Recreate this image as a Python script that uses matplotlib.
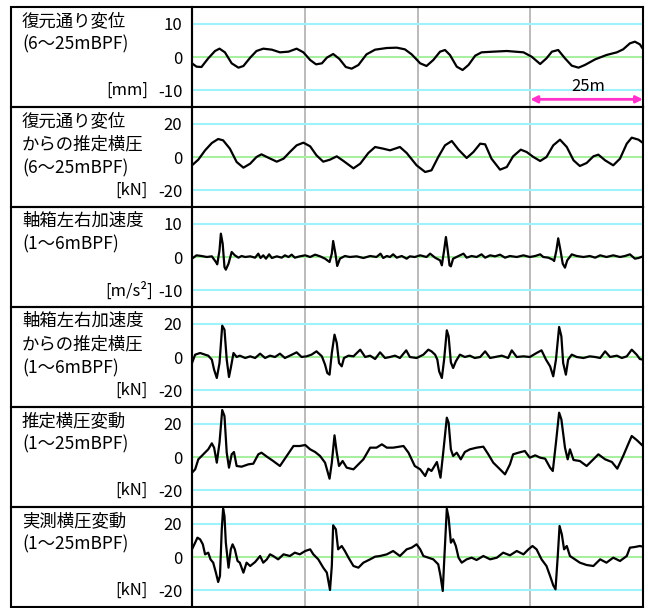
import matplotlib.pyplot as plt
from matplotlib.patches import Rectangle
from matplotlib.transforms import blended_transform_factory

plt.rcParams['font.family'] = ['Noto Sans CJK JP', 'DejaVu Sans']
plt.rcParams['axes.unicode_minus'] = False

# 距離[m], 値 の組
restored_align = [
    (0.0, -1.9), (1.0, -2.9), (2.1, -3.0), (3.6, -0.4), (5.1, 1.8), (6.1, 2.5), (7.3, 1.4),
    (8.8, -1.9), (10.3, -3.2), (11.4, -2.7), (12.9, -0.2), (14.3, 1.8), (15.8, 2.5), (17.7, 2.2),
    (19.5, 1.4), (21.4, 1.6), (23.2, 2.5), (24.7, 1.4), (26.2, -0.9), (27.5, -2.2), (28.8, -1.9),
    (29.9, -0.2), (31.3, 0.9), (32.7, -0.6), (34.1, -3.0), (35.4, -3.5), (36.9, -2.4), (38.7, 0.8),
    (40.6, 2.2), (43.2, 2.7), (45.4, 2.8), (47.2, 2.3), (48.7, 0.8), (50.6, -1.9), (52.0, -2.7),
    (53.5, -0.9), (55.0, 1.6), (56.1, 2.1), (57.2, 0.6), (58.7, -2.9), (60.0, -3.9), (61.3, -2.4),
    (62.8, 0.4), (64.2, 1.4), (66.8, 1.6), (69.8, 1.8), (73.5, 1.4), (75.3, 0.1), (77.2, -2.1),
    (78.6, -0.4), (79.8, 1.6), (81.2, 2.1), (82.7, -0.4), (84.2, -2.6), (85.7, -3.2), (87.1, -2.4),
    (89.4, -0.7), (91.9, 0.6), (94.2, 1.4), (95.6, 2.3), (97.1, 4.1), (98.2, 4.6), (99.3, 3.8),
    (100.0, 2.4),
]

est_lat_from_align = [
    (0.0, -5.0), (1.4, -1.6), (2.9, 4.0), (4.4, 8.4), (5.8, 10.8), (6.9, 10.0), (8.4, 5.0),
    (9.9, -3.0), (11.4, -6.4), (12.9, -4.0), (14.3, 0.0), (15.4, 1.6), (16.9, -0.4), (18.8, -2.8),
    (20.3, -1.0), (21.7, 3.0), (23.2, 7.0), (24.7, 8.6), (26.2, 6.4), (27.6, 1.0), (29.1, -2.8),
    (30.6, -1.6), (32.1, 0.4), (33.6, -2.4), (35.8, -6.8), (37.3, -4.0), (39.1, 2.4), (40.6, 6.0),
    (42.4, 5.0), (43.9, 4.0), (46.1, 6.0), (47.6, 2.4), (49.8, -5.0), (51.7, -9.0), (53.1, -8.0),
    (54.6, 0.0), (56.1, 7.0), (57.6, 9.6), (59.1, 4.4), (60.9, -0.6), (62.4, 3.0), (63.9, 8.0),
    (65.0, 7.6), (66.4, -1.0), (68.3, -7.6), (69.8, -6.0), (71.2, 0.4), (72.9, 4.4), (74.2, 3.0),
    (75.7, 0.0), (77.2, -2.4), (78.6, 0.0), (80.1, 7.0), (81.6, 10.4), (83.1, 6.0), (84.6, -2.0),
    (86.0, -5.4), (87.5, -3.6), (89.0, 0.4), (90.1, 1.4), (91.6, -2.0), (93.4, -5.0), (94.9, -1.0),
    (96.4, 8.0), (97.5, 11.6), (99.0, 10.4), (100.0, 8.4),
]

axlebox_acc = [
    (0.0, -0.5), (1.0, 0.5), (2.1, 0.3), (3.3, 0.0), (4.4, 0.2), (5.3, -1.5), (5.6, -2.2),
    (6.1, 2.0), (6.4, 7.0), (6.8, 4.0), (7.2, -3.0), (7.5, -3.8), (8.1, -2.0), (8.8, 1.5),
    (9.5, 0.5), (10.3, -0.2), (11.0, 0.3), (11.8, 0.0), (12.9, 0.2), (14.0, -0.2), (14.7, 1.0),
    (15.2, -0.3), (15.8, 0.5), (16.4, -0.5), (17.1, 0.8), (17.7, -0.3), (18.8, 0.2), (19.9, -0.2),
    (20.6, 0.5), (21.4, 0.0), (22.1, 0.7), (22.8, -0.2), (23.9, 0.2), (25.1, 0.5), (26.2, 0.0),
    (27.3, 0.7), (28.4, 0.2), (29.5, -0.5), (30.5, -1.5), (31.0, 1.0), (31.3, 4.8), (31.8, 1.0),
    (32.2, -2.7), (32.8, -0.5), (33.9, 0.3), (35.0, 0.0), (36.5, 0.2), (38.0, -0.3), (39.5, 0.3),
    (40.9, 0.0), (41.8, 1.0), (42.4, -0.3), (43.2, 0.3), (43.9, 0.0), (44.6, 0.8), (45.4, -0.2),
    (46.5, 0.3), (47.6, -0.5), (48.3, 0.2), (49.4, 0.0), (50.6, 0.5), (52.0, 0.0), (52.8, 1.0),
    (53.9, -0.2), (55.0, -1.0), (55.4, -2.5), (55.9, 2.0), (56.3, 6.0), (56.7, 2.0), (57.1, -2.5),
    (57.4, -2.8), (57.9, -0.5), (59.1, 0.3), (60.2, 1.0), (60.9, -0.2), (62.0, 0.3), (63.1, 0.0),
    (64.2, 0.8), (65.0, -0.2), (66.1, 0.5), (67.2, 0.2), (68.3, 0.7), (69.4, -0.2), (70.5, 0.3),
    (72.0, 0.0), (73.5, 0.5), (74.9, 0.0), (76.1, 0.3), (77.2, 0.8), (77.9, 0.0), (79.0, -0.2),
    (80.0, -0.8), (80.3, -1.2), (80.8, 2.0), (81.2, 5.6), (81.7, 2.0), (82.2, -2.0), (82.7, -3.2),
    (83.2, -1.0), (84.2, 0.8), (85.3, 0.3), (86.8, 0.0), (88.2, 0.3), (89.4, -0.2), (90.5, 0.5),
    (91.9, 0.0), (93.4, 0.5), (94.9, 0.0), (96.0, 0.3), (97.1, 0.8), (98.2, -0.5), (99.0, -0.3),
    (100.0, 0.2),
]

est_lat_from_acc = [
    (0.0, -3.6), (0.7, 1.4), (1.8, 2.4), (2.9, 1.4), (3.6, 0.8), (4.4, -1.6), (4.9, -7.6),
    (5.5, -12.6), (6.1, -3.6), (6.7, 18.8), (7.2, 16.4), (7.7, -1.6), (8.2, -12.0), (8.6, -6.6),
    (9.2, 2.4), (9.9, 0.0), (10.6, 0.8), (11.8, -0.6), (12.9, 0.4), (14.0, -0.6), (15.1, 2.0),
    (16.2, -0.6), (17.3, 0.8), (18.4, 0.0), (19.5, 2.0), (20.6, -0.6), (21.7, 0.8), (23.2, 2.8),
    (24.3, 0.0), (25.4, 0.4), (26.5, 1.4), (27.6, 3.4), (28.8, 0.4), (29.5, -4.6), (30.0, -9.6),
    (30.5, -10.6), (31.0, 2.4), (31.6, 13.4), (32.1, 8.4), (32.6, -3.6), (33.2, -5.6), (33.7, -0.6),
    (34.7, 0.8), (35.8, 0.4), (37.3, 4.4), (38.4, 0.0), (39.5, 0.8), (40.6, -1.2), (41.7, 2.8),
    (42.8, -0.6), (43.9, 0.0), (45.0, 0.8), (46.1, -0.6), (47.5, 4.0), (48.3, 0.0), (49.8, -0.6),
    (51.3, 1.4), (52.4, 4.4), (53.1, 3.4), (53.9, 1.4), (54.4, -1.6), (54.8, -8.6), (55.4, -12.6),
    (55.9, -1.6), (56.5, 16.0), (56.9, 12.4), (57.4, -3.2), (57.9, -6.6), (58.5, -2.6), (59.4, 1.4),
    (60.5, 0.0), (61.6, 0.8), (62.7, -0.6), (63.9, 0.0), (65.0, 3.4), (66.1, -0.6), (67.2, 0.0),
    (68.7, 0.8), (70.1, -0.6), (70.9, 4.0), (72.0, 0.0), (73.5, 0.4), (74.9, 0.0), (76.4, 2.4),
    (77.5, 4.0), (78.5, -1.6), (79.4, -5.6), (80.1, -11.6), (80.7, -1.6), (81.4, 18.0), (81.9, 12.4),
    (82.3, -3.6), (82.9, -10.6), (83.4, -1.6), (84.2, 1.4), (85.3, 0.0), (86.8, -0.6), (88.2, 0.4),
    (89.4, 0.0), (90.5, -0.6), (91.6, 3.4), (92.7, 0.0), (94.2, 0.8), (95.3, -0.6), (96.4, 0.4),
    (97.5, 4.4), (98.6, 1.4), (99.3, -1.2), (100.0, -1.6),
]

est_lat = [
    (0.0, -9.4), (0.7, -7.4), (1.4, -1.4), (2.5, 1.6), (3.6, 4.6), (4.4, 8.2), (4.9, 5.6),
    (5.5, -3.4), (6.1, 8.6), (6.7, 28.2), (7.2, 24.6), (7.7, 2.6), (8.2, -6.4), (8.8, 1.6),
    (9.3, 3.0), (9.9, -5.4), (11.0, -5.8), (12.5, -4.4), (13.6, -4.0), (14.7, 1.6), (15.4, 2.6),
    (16.6, 0.2), (18.0, -2.4), (19.5, -5.4), (21.0, 0.6), (22.5, 6.6), (23.9, 6.6), (25.1, 7.2),
    (26.2, 4.6), (27.3, 3.0), (28.4, 0.6), (29.5, -3.4), (30.5, -13.0), (31.0, -3.4), (31.6, 13.0),
    (32.1, 2.6), (32.6, -5.4), (33.4, -2.4), (34.3, -6.4), (35.8, -7.4), (36.9, -4.4), (38.0, -1.4),
    (39.5, 5.6), (40.9, 5.6), (42.1, 7.6), (43.2, 5.6), (44.6, 5.6), (46.9, 6.6), (48.0, 2.6),
    (49.4, -5.4), (50.6, -7.4), (51.7, -11.4), (52.4, -7.0), (53.1, -8.4), (54.3, -3.0), (55.1, -12.4),
    (55.7, 2.6), (56.5, 23.6), (56.9, 20.6), (57.4, 4.6), (57.9, 0.6), (58.7, 2.6), (59.6, -1.4),
    (60.5, 3.0), (61.6, 4.6), (63.1, 5.6), (64.6, 6.2), (65.7, 1.6), (66.8, -3.4), (68.3, -7.4),
    (69.4, -10.4), (70.5, -4.4), (71.2, 1.6), (72.4, 2.6), (73.8, 3.6), (74.9, -0.4), (76.1, 1.0),
    (77.2, -0.4), (78.3, -1.0), (79.4, -6.4), (80.0, -8.4), (80.7, 8.6), (81.4, 26.6), (81.9, 22.6),
    (82.7, 5.6), (83.3, -1.4), (83.8, 4.6), (84.6, -1.8), (86.0, -2.4), (87.5, -5.4), (89.0, -1.4),
    (90.1, 1.6), (91.6, -1.4), (93.1, -3.0), (94.3, -7.0), (95.6, 0.6), (96.7, 7.6), (97.5, 12.6),
    (98.6, 10.2), (100.0, 6.6),
]

meas_lat = [
    (0.0, 4.6), (0.7, 8.6), (1.2, 11.6), (1.8, 10.6), (2.4, 7.6), (2.9, 1.6), (3.6, 2.6),
    (4.1, -1.4), (4.7, -3.4), (5.3, -9.4), (5.8, -15.0), (6.2, -11.4), (6.6, 16.6), (6.9, 29.0),
    (7.2, 24.6), (7.5, 8.6), (8.1, -6.4), (8.6, 4.6), (9.0, 7.6), (9.5, 4.6), (10.1, -2.4),
    (10.6, -3.4), (11.4, -9.4), (12.1, -3.4), (12.9, -5.4), (14.0, -3.0), (15.1, 0.6), (15.8, -3.4),
    (16.6, -1.4), (17.3, 1.6), (18.0, 0.6), (19.1, -1.4), (20.3, 1.6), (21.7, 0.6), (22.8, 2.6),
    (23.9, 1.6), (25.1, 3.6), (26.2, 4.6), (26.9, 1.6), (28.0, -1.4), (29.1, -6.4), (29.9, -9.4),
    (30.6, -19.8), (31.0, -5.4), (31.3, 19.0), (31.9, 16.6), (32.4, 4.6), (33.2, 6.6), (33.9, 3.6),
    (34.7, -0.4), (35.8, -5.4), (36.9, -6.4), (38.0, -3.4), (39.5, -1.4), (40.6, 0.2), (41.7, 0.6),
    (43.2, 1.6), (44.6, 3.6), (46.1, 0.6), (47.6, 4.6), (48.7, 5.6), (49.8, 7.6), (50.6, 4.6),
    (51.3, 0.6), (52.4, -0.4), (53.5, -1.4), (54.6, -4.4), (55.1, -11.4), (55.6, -20.4), (55.9, -3.4),
    (56.5, 29.0), (56.9, 23.6), (57.4, 8.6), (57.9, 10.6), (58.5, 6.6), (59.1, -0.4), (59.8, -3.4),
    (60.9, -1.4), (62.0, -0.4), (63.1, -1.8), (64.6, 0.6), (66.1, -1.4), (67.6, -0.4), (69.0, 2.6),
    (70.5, 1.0), (72.0, 3.6), (73.5, 1.6), (74.6, 4.6), (75.5, 6.6), (76.4, 4.6), (77.5, -1.4),
    (78.6, -5.4), (79.4, -11.4), (80.1, -17.0), (80.6, -19.4), (81.1, 0.6), (81.5, 18.6), (82.0, 13.6),
    (82.5, 4.6), (83.1, 6.6), (83.8, 0.6), (84.9, -1.4), (86.0, -3.4), (87.5, -4.8), (89.0, -5.4),
    (90.5, -1.4), (91.9, -3.4), (93.4, -0.4), (94.9, -2.4), (96.4, 0.6), (97.1, 5.6), (98.2, 6.0),
    (99.3, 6.6), (100.0, 6.2),
]

series = [restored_align, est_lat_from_align, axlebox_acc, est_lat_from_acc, est_lat, meas_lat]
titles = [
    ["復元通り変位", "(6〜25mBPF)"],
    ["復元通り変位", "からの推定横圧", "(6〜25mBPF)"],
    ["軸箱左右加速度", "(1〜6mBPF)"],
    ["軸箱左右加速度", "からの推定横圧", "(1〜6mBPF)"],
    ["推定横圧変動", "(1〜25mBPF)"],
    ["実測横圧変動", "(1〜25mBPF)"],
]
units = ["[mm]", "[kN]", "[m/s²]", "[kN]", "[kN]", "[kN]"]
ticks = [10, 20, 10, 20, 20, 20]

W, H = 646, 608
x_left, x_split, x_right = 11, 192, 643
row_top, row_h = 7, 100

fig = plt.figure(figsize=(W / 100, H / 100), dpi=100)

for i, data in enumerate(series):
    top = row_top + row_h * i
    t = ticks[i]
    ax = fig.add_axes([x_split / W, 1 - (top + row_h) / H, (x_right - x_split) / W, row_h / H])
    ax.set_xlim(0, 100)
    ax.set_ylim(-1.5 * t, 1.5 * t)

    for xv in [25, 50, 75]:
        ax.axvline(xv, color='#a8a8a8', lw=1.1, zorder=1)
    ax.axhline(t, color='#9ef3fb', lw=1.5, zorder=1)
    ax.axhline(-t, color='#9ef3fb', lw=1.5, zorder=1)
    ax.axhline(0, color='#a6f0a0', lw=1.5, zorder=1)

    xs = [p[0] for p in data]
    ys = [p[1] for p in data]
    ax.plot(xs, ys, color='black', lw=1.6, zorder=3, clip_on=True)

    ax.set_xticks([])
    ax.set_yticks([-t, 0, t])
    ax.set_yticklabels([f"-{t}", "0", f"{t}"], fontsize=12)
    ax.tick_params(axis='y', length=0, pad=7)
    for s in ax.spines.values():
        s.set_linewidth(1.5)

    # 左側の枠
    fig.add_artist(Rectangle((x_left / W, 1 - (top + row_h) / H), (x_split - x_left) / W, row_h / H,
                             transform=fig.transFigure, fill=False, lw=1.5, ec='black'))

    for k, line in enumerate(titles[i]):
        fig.text(22 / W, 1 - (top + 14 + 23.5 * k) / H, line, ha='left', va='center', fontsize=12.5)

    tr = blended_transform_factory(fig.transFigure, ax.transData)
    ux = 153 if i == 2 else 148
    ax.text(ux / W, -t, units[i], transform=tr, ha='right', va='center', fontsize=12)

    if i == 0:
        ax.annotate('', xy=(100, -12.7), xytext=(75, -12.7),
                    arrowprops=dict(arrowstyle='<|-|>', color='#ff33cc', lw=2, mutation_scale=10,
                                    shrinkA=0, shrinkB=0))
        ax.text(87.8, -8.8, "25m", ha='center', va='center', fontsize=12)

fig.savefig('out.png', dpi=100)
